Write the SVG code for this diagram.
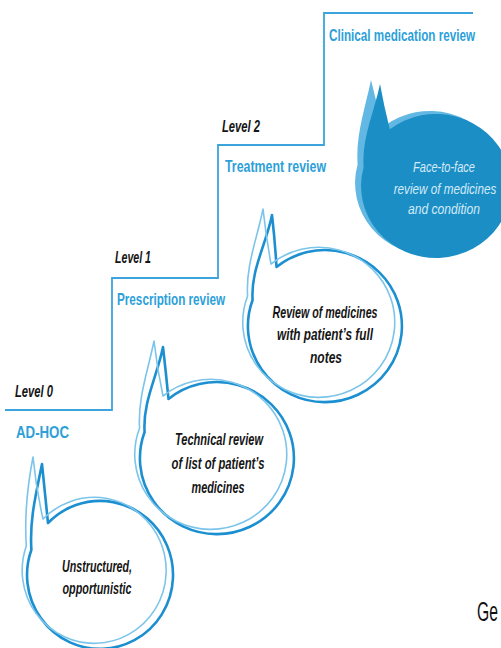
<svg xmlns="http://www.w3.org/2000/svg" width="501" height="648" viewBox="0 0 501 648">
<style>
.stair{fill:none;stroke:#3ba4dc;stroke-width:1.8}
.lvl{font-family:"Liberation Sans",Arial,sans-serif;font-weight:bold;font-style:italic;font-size:16px;fill:#151515}
.lab{font-family:"Liberation Sans",Arial,sans-serif;font-weight:bold;font-size:17px;fill:#2d9fd9}
.bt{font-family:"Liberation Sans",Arial,sans-serif;font-weight:bold;font-style:italic;font-size:16px;fill:#151515;text-anchor:middle}
.wt{font-family:"Liberation Sans",Arial,sans-serif;font-style:italic;font-size:15px;fill:#d4ebf7;text-anchor:middle}
.dk{fill:#ffffff;stroke:#1b8fd0;stroke-width:2.6;stroke-linejoin:round}
.lt{fill:none;stroke:#7cc5ea;stroke-width:1.6;stroke-linejoin:round}
</style>
<rect width="501" height="648" fill="#ffffff"/>
<g id="connectors">
<path class="stair" d="M5 410 H112 V278 H218 V145 H324 V13 H473"/>
</g>
<g id="level0">
<text class="lvl" x="15" y="397" textLength="38" lengthAdjust="spacingAndGlyphs">Level 0</text>
<text class="lab" x="16" y="438" textLength="53" lengthAdjust="spacingAndGlyphs">AD-HOC</text>
</g>
<g id="level1">
<text class="lvl" x="115" y="263" textLength="36" lengthAdjust="spacingAndGlyphs">Level 1</text>
<text class="lab" x="117" y="305" textLength="108" lengthAdjust="spacingAndGlyphs">Prescription review</text>
</g>
<g id="level2">
<text class="lvl" x="222" y="132" textLength="38" lengthAdjust="spacingAndGlyphs">Level 2</text>
<text class="lab" x="225" y="172" textLength="101" lengthAdjust="spacingAndGlyphs">Treatment review</text>
</g>
<g id="level3">
<text class="lab" transform="translate(329,41) scale(0.687,1)">Clinical medication review</text>
</g>
<g id="bubble0">
<path class="dk" d="M42 464 Q45 493 48 523 A73 74 0 1 1 31.4 549.7 C29.4 519.7 36 494 42 464 Z"/>
<path class="lt" d="M33 457 Q36 488 43 519 A72 73 0 1 1 26.3 546 C24.3 515 27 488 33 457 Z"/>
<text class="bt" x="97" y="572" textLength="70" lengthAdjust="spacingAndGlyphs">Unstructured,</text>
<text class="bt" x="97" y="594" textLength="69" lengthAdjust="spacingAndGlyphs">opportunistic</text>
</g>
<g id="bubble1">
<path class="dk" d="M163 347 Q166 373 168.5 399 A77 76 0 1 1 144.6 432 C142.6 402 157 377 163 347 Z"/>
<path class="lt" d="M154 341 Q157 368 163 396 A76 75 0 1 1 139.6 428 C137.6 398 148 371 154 341 Z"/>
<text class="bt" x="219" y="445" textLength="88" lengthAdjust="spacingAndGlyphs">Technical review</text>
<text class="bt" x="218" y="469" textLength="93" lengthAdjust="spacingAndGlyphs">of list of patient’s</text>
<text class="bt" x="218" y="493" textLength="53" lengthAdjust="spacingAndGlyphs">medicines</text>
</g>
<g id="bubble2">
<path class="dk" d="M272 215 Q275 241 276.5 267 A77 76 0 1 1 252.6 300 C250.6 270 266 245 272 215 Z"/>
<path class="lt" d="M263 209 Q266 236 271 264 A76 75 0 1 1 247.6 296 C245.6 266 257 239 263 209 Z"/>
<text class="bt" x="325" y="318" textLength="105" lengthAdjust="spacingAndGlyphs">Review of medicines</text>
<text class="bt" x="325" y="340" textLength="96" lengthAdjust="spacingAndGlyphs">with patient’s full</text>
<text class="bt" x="326" y="363" textLength="32" lengthAdjust="spacingAndGlyphs">notes</text>
</g>
<g id="bubble3">
<path fill="#62b8e2" d="M371 80 Q376 103 383.8 126.3 A75 72 0 1 1 357.6 164.4 C355.6 135 365 109 371 80 Z"/>
<path fill="#1b8ec6" d="M380 84 Q384 106 389.8 129.3 A75 72 0 1 1 363.6 167.4 C361.6 138 374 113 380 84 Z"/>
<text class="wt" x="444" y="172" textLength="62" lengthAdjust="spacingAndGlyphs">Face-to-face</text>
<text class="wt" transform="translate(445,194) scale(0.78,1)">review of medicines</text>
<text class="wt" x="444" y="214" textLength="72" lengthAdjust="spacingAndGlyphs">and condition</text>
</g>
<g id="footer">
<text transform="translate(477,621) scale(0.58,1)" font-family="'Liberation Sans',Arial,sans-serif" font-size="27" fill="#111">Ge</text>
</g>
</svg>
